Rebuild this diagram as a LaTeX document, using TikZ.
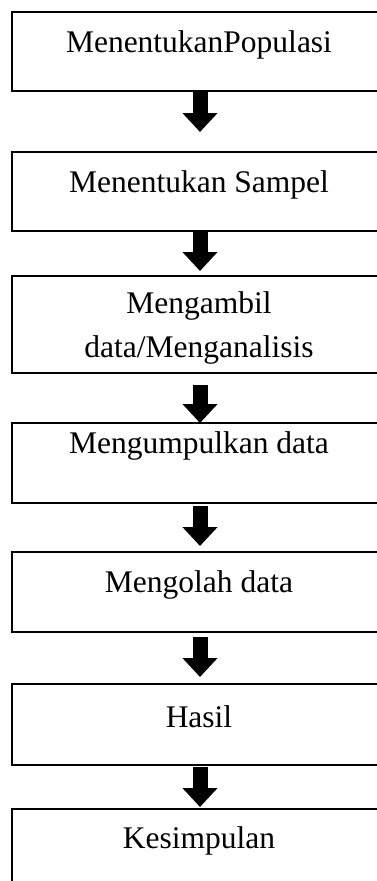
\documentclass[tikz,border=0pt]{standalone}
\usepackage{fontspec}
\setmainfont{Liberation Serif}
\usetikzlibrary{arrows.meta}
\begin{document}
\begin{tikzpicture}[x=1pt,y=1pt,
  box/.style={draw=black,line width=2.2pt,rectangle,inner sep=0pt,minimum width=376pt},
  txt/.style={anchor=base,inner sep=0pt,font=\fontsize{31.5}{44}\selectfont,align=center},
  blk/.style={line width=15pt,-{Triangle[width=34pt,length=19pt]}}]
\clip (0,0) rectangle (377,-881);
\fill[white] (0,0) rectangle (377,-881);
\node[box,minimum height=79pt] (b1) at (200,-51.5) {};
\node[box,minimum height=79pt] (b2) at (200,-191.5) {};
\node[box,minimum height=97pt] (b3) at (200,-324.5) {};
\node[box,minimum height=80pt] (b4) at (200,-463) {};
\node[box,minimum height=80pt] (b5) at (200,-592) {};
\node[box,minimum height=81pt] (b6) at (200,-724.5) {};
\node[box,minimum height=80pt] (b7) at (200,-849) {};
\node[txt] (t1) at (199,-52) {MenentukanPopulasi};
\node[txt] (t2) at (199,-192) {Menentukan Sampel};
\node[txt] (t3a) at (199,-313) {Mengambil};
\node[txt] (t3b) at (199,-357) {data/Menganalisis};
\node[txt] (t4) at (199,-453) {Mengumpulkan data};
\node[txt] (t5) at (199,-592) {Mengolah data};
\node[txt] (t6) at (199,-727) {Hasil};
\node[txt] (t7) at (199,-848) {Kesimpulan};
\coordinate (s1) at (200,-92);  \coordinate (e1) at (200,-132);
\coordinate (s2) at (200,-232); \coordinate (e2) at (200,-271);
\coordinate (s3) at (200,-385); \coordinate (e3) at (200,-423);
\coordinate (s4) at (200,-506); \coordinate (e4) at (200,-546);
\coordinate (s5) at (200,-637); \coordinate (e5) at (200,-677);
\coordinate (s6) at (200,-767); \coordinate (e6) at (200,-807);
\draw[blk] (s1) -- (e1);
\draw[blk] (s2) -- (e2);
\draw[blk] (s3) -- (e3);
\draw[blk] (s4) -- (e4);
\draw[blk] (s5) -- (e5);
\draw[blk] (s6) -- (e6);
\end{tikzpicture}
\end{document}
